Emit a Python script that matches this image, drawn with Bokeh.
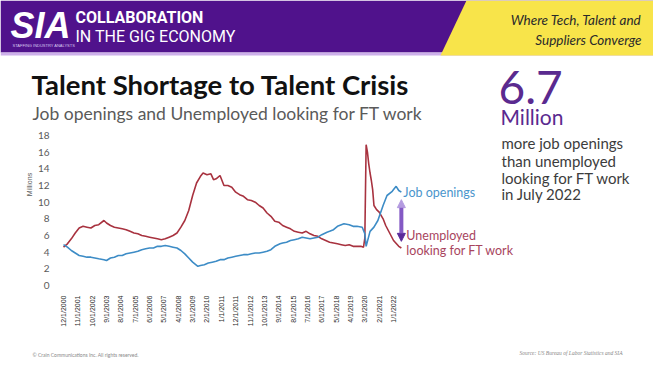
from math import pi
from bokeh.plotting import figure
from bokeh.models import (Range1d, FixedTicker, Label, BoxAnnotation, PolyAnnotation,
                          Arrow, NormalHead)
from bokeh.embed import file_html
from bokeh.resources import INLINE

# ---------------- data ----------------
job_dates = ["2000-12", "2001-03", "2001-06", "2001-09", "2001-12", "2002-03", "2002-06", "2002-09",
             "2002-12", "2003-03", "2003-07", "2003-09", "2003-12", "2004-03", "2004-06", "2004-09",
             "2004-12", "2005-03", "2005-06", "2005-09", "2005-12", "2006-03", "2006-06", "2006-09",
             "2006-12", "2007-03", "2007-06", "2007-09", "2007-12", "2008-03", "2008-06", "2008-09",
             "2008-12", "2009-03", "2009-07", "2009-09", "2009-12", "2010-03", "2010-06", "2010-09",
             "2010-12", "2011-03", "2011-06", "2011-09", "2011-12", "2012-03", "2012-06", "2012-09",
             "2012-12", "2013-03", "2013-06", "2013-09", "2013-12", "2014-03", "2014-06", "2014-10",
             "2014-12", "2015-03", "2015-06", "2015-09", "2015-12", "2016-03", "2016-06", "2016-09",
             "2016-12", "2017-03", "2017-06", "2017-10", "2017-12", "2018-03", "2018-06", "2018-11",
             "2019-03", "2019-06", "2019-09", "2020-01", "2020-03", "2020-04", "2020-07", "2020-10",
             "2021-01", "2021-05", "2021-08", "2021-12", "2022-03", "2022-05", "2022-07"]
job_openings = [4.9, 4.6, 4.2, 3.9, 3.6, 3.5, 3.4, 3.4,
                3.3, 3.2, 3.1, 3.0, 3.3, 3.4, 3.6, 3.6,
                3.8, 3.9, 4.0, 4.1, 4.3, 4.4, 4.5, 4.5,
                4.7, 4.7, 4.8, 4.7, 4.6, 4.5, 4.2, 3.8,
                3.3, 2.8, 2.3, 2.4, 2.5, 2.7, 2.8, 2.9,
                3.1, 3.1, 3.3, 3.4, 3.5, 3.6, 3.7, 3.7,
                3.8, 3.9, 3.9, 4.0, 4.1, 4.3, 4.7, 5.0,
                5.1, 5.2, 5.4, 5.5, 5.6, 5.8, 5.7, 5.6,
                5.7, 5.8, 6.1, 6.4, 6.5, 6.7, 7.1, 7.4,
                7.3, 7.1, 7.1, 7.0, 6.2, 4.7, 6.5, 7.0,
                7.8, 9.6, 10.8, 11.3, 11.9, 11.4, 11.2]

unemp_dates = ["2000-12", "2001-03", "2001-06", "2001-09", "2001-12", "2002-03", "2002-06", "2002-09",
               "2002-12", "2003-03", "2003-07", "2003-09", "2003-12", "2004-03", "2004-06", "2004-09",
               "2004-12", "2005-03", "2005-06", "2005-09", "2005-12", "2006-03", "2006-06", "2006-09",
               "2006-12", "2007-03", "2007-06", "2007-09", "2007-12", "2008-03", "2008-06", "2008-09",
               "2008-12", "2009-03", "2009-06", "2009-09", "2009-11", "2010-02", "2010-05", "2010-07",
               "2010-09", "2010-12", "2011-03", "2011-06", "2011-09", "2011-12", "2012-03", "2012-06",
               "2012-09", "2012-12", "2013-03", "2013-06", "2013-09", "2013-12", "2014-03", "2014-06",
               "2014-09", "2014-12", "2015-03", "2015-06", "2015-09", "2015-12", "2016-03", "2016-06",
               "2016-09", "2016-12", "2017-03", "2017-06", "2017-09", "2017-12", "2018-03", "2018-06",
               "2018-09", "2018-12", "2019-03", "2019-06", "2019-09", "2019-12", "2020-02", "2020-03",
               "2020-04", "2020-05", "2020-06", "2020-07", "2020-08", "2020-09", "2020-10", "2020-12",
               "2021-02", "2021-05", "2021-07", "2021-09", "2022-01", "2022-05", "2022-07"]
unemployed_ft = [4.6, 5.0, 5.6, 6.3, 6.9, 7.1, 7.0, 6.9,
                 7.2, 7.3, 7.8, 7.5, 7.2, 7.0, 6.9, 6.8,
                 6.7, 6.5, 6.3, 6.2, 6.0, 5.9, 5.8, 5.7,
                 5.6, 5.5, 5.6, 5.8, 6.0, 6.3, 7.0, 7.8,
                 9.0, 10.8, 12.3, 13.1, 13.5, 13.3, 13.4, 12.7,
                 12.8, 13.2, 12.0, 12.0, 11.8, 11.2, 10.9, 10.7,
                 10.3, 10.2, 10.0, 9.6, 9.3, 8.7, 8.3, 7.7,
                 7.6, 7.2, 7.0, 6.8, 6.5, 6.4, 6.3, 6.5,
                 6.2, 6.0, 5.9, 5.6, 5.4, 5.2, 5.1, 5.0,
                 4.9, 4.8, 4.9, 4.7, 4.7, 4.7, 4.6, 5.7,
                 16.9, 16.0, 14.6, 13.5, 12.6, 11.5, 9.6, 9.1,
                 8.8, 8.0, 7.2, 6.6, 5.4, 4.7, 4.5]

tick_labels = ["12/1/2000", "11/1/2001", "10/1/2002", "9/1/2003", "8/1/2004", "7/1/2005",
               "6/1/2006", "5/1/2007", "4/1/2008", "3/1/2009", "2/1/2010", "1/1/2011",
               "12/1/2011", "11/1/2012", "10/1/2013", "9/1/2014", "8/1/2015", "7/1/2016",
               "6/1/2017", "5/1/2018", "4/1/2019", "3/1/2020", "2/1/2021", "1/1/2022"]
y_ticks = [0, 2, 4, 6, 8, 10, 12, 14, 16, 18]


def month_index(year, month):
    return (year - 2000) * 12 + (month - 12)


def ym(s):
    y, m = s.split("-")
    return month_index(int(y), int(m))


def mdy(s):
    m, d, y = s.split("/")
    return month_index(int(y), int(m))


job_x = [ym(d) for d in job_dates]
unemp_x = [ym(d) for d in unemp_dates]
tick_pos = [mdy(t) for t in tick_labels]

PURPLE = "#50128c"
BLUE = "#3d8cc6"
RED = "#a8323f"

W, H = 653, 368
# the plot frame covers the whole canvas; the axes are placed at fixed data locations
p = figure(width=W, height=H, output_backend="svg", toolbar_location=None,
           x_range=Range1d(-48.3, 452.3), y_range=Range1d(-9.96, 34.2), min_border=0)
p.outline_line_color = None
p.xgrid.visible = False
p.ygrid.visible = False
p.background_fill_color = "white"
p.border_fill_color = "white"

p.xaxis.fixed_location = 0
p.xaxis.ticker = FixedTicker(ticks=tick_pos)
p.xaxis.major_label_overrides = {t: l for t, l in zip(tick_pos, tick_labels)}
p.xaxis.major_label_orientation = pi / 2
p.xaxis.major_label_text_font_size = "7px"
p.xaxis.major_label_text_color = "#2a2a2a"
p.xaxis.major_label_text_font = "Liberation Sans"
p.xaxis.major_label_standoff = 4
p.xaxis.axis_line_color = None
p.xaxis.major_tick_line_color = None
p.xaxis.minor_tick_line_color = None

p.yaxis.fixed_location = -5.37
p.yaxis.ticker = FixedTicker(ticks=y_ticks)
p.yaxis.major_label_text_font_size = "10px"
p.yaxis.major_label_text_color = "#5a5a5a"
p.yaxis.major_label_text_font = "Lato"
p.yaxis.major_label_standoff = 1
p.yaxis.axis_line_color = None
p.yaxis.major_tick_line_color = None
p.yaxis.minor_tick_line_color = None
p.yaxis.axis_label = "Millions"
p.yaxis.axis_label_text_font_size = "7px"
p.yaxis.axis_label_text_font_style = "normal"
p.yaxis.axis_label_text_color = "#5a5a5a"
p.yaxis.axis_label_standoff = 2

p.line(unemp_x, unemployed_ft, line_color=RED, line_width=1.6)
p.line(job_x, job_openings, line_color=BLUE, line_width=1.6)

# double-headed arrow between last values
ax = job_x[-1]
p.add_layout(Arrow(x_start=ax, y_start=job_openings[-1] - 0.9, x_end=ax, y_end=unemployed_ft[-1] + 0.8,
                   line_color="#8459c4", line_width=4,
                   start=NormalHead(size=8, fill_color="#b49be0", line_color="#b49be0"),
                   end=NormalHead(size=8, fill_color="#5a2a9a", line_color="#5a2a9a")))
p.add_layout(Label(x=ax, y=job_openings[-1], x_offset=2, text="Job openings", text_color="#4a95cc",
                   text_font="Lato", text_font_size="12.5px", text_baseline="middle"))
p.add_layout(Label(x=ax, y=unemployed_ft[-1], x_offset=5, y_offset=13, text="Unemployed",
                   text_color="#a8455e", text_font="Lato", text_font_size="12.5px", text_baseline="middle"))
p.add_layout(Label(x=ax, y=unemployed_ft[-1], x_offset=5, y_offset=-2, text="looking for FT work",
                   text_color="#a8455e", text_font="Lato", text_font_size="12.5px", text_baseline="middle"))


# ---------------- slide decoration (screen units) ----------------
def sx(px):
    return px


def sy(py):
    return H - py


p.add_layout(BoxAnnotation(left=sx(0), right=sx(W), top=sy(0), bottom=sy(52),
                           left_units="screen", right_units="screen", top_units="screen",
                           bottom_units="screen", fill_color=PURPLE, fill_alpha=1, line_color=None,
                           level="underlay"))
p.add_layout(BoxAnnotation(left=sx(0), right=sx(W), top=sy(52), bottom=sy(55),
                           left_units="screen", right_units="screen", top_units="screen",
                           bottom_units="screen", fill_color="#cdb0ea", fill_alpha=1, line_color=None,
                           level="underlay"))
p.add_layout(PolyAnnotation(xs=[sx(466), sx(W), sx(W), sx(440)], ys=[sy(0), sy(0), sy(55), sy(55)],
                            xs_units="screen", ys_units="screen", fill_color="#f8e44a", fill_alpha=1,
                            line_color=None, level="underlay"))


def slabel(px, py, text, **kw):
    p.add_layout(Label(x=sx(px), y=sy(py), x_units="screen", y_units="screen", text=text, **kw))


slabel(10, 25, "SIA", text_color="white", text_font="Liberation Sans", text_font_size="36px",
       text_font_style="bold italic", text_baseline="middle")
slabel(12, 45, "STAFFING INDUSTRY ANALYSTS", text_color="#d8c8f0", text_font="Liberation Sans",
       text_font_size="4px", text_baseline="middle")
slabel(75, 17, "COLLABORATION", text_color="white", text_font="Roboto", text_font_size="16px",
       text_font_style="bold", text_baseline="middle")
slabel(75, 36, "IN THE GIG ECONOMY", text_color="white", text_font="Roboto", text_font_size="16px",
       text_baseline="middle")
slabel(641, 19, "Where Tech, Talent and", text_color="#2a2a2a", text_font="Lato", text_font_size="13.5px",
       text_font_style="italic", text_align="right", text_baseline="middle")
slabel(641, 39, "Suppliers Converge", text_color="#2a2a2a", text_font="Lato", text_font_size="13.5px",
       text_font_style="italic", text_align="right", text_baseline="middle")

slabel(31, 84, "Talent Shortage to Talent Crisis", text_color="#111111", text_font="Lato",
       text_font_size="27.5px", text_font_style="bold", text_baseline="middle")
slabel(32, 113, "Job openings and Unemployed looking for FT work", text_color="#5a5a5a",
       text_font="Lato", text_font_size="17.5px", text_baseline="middle")

slabel(498, 87, "6.7", text_color="#5a2a8f", text_font="Lato", text_font_size="46px",
       text_baseline="middle")
slabel(500, 116, "Million", text_color="#5a2a8f", text_font="Lato", text_font_size="21px",
       text_baseline="middle")
for py, t in zip([142, 160, 177, 193], ["more job openings", "than unemployed", "looking for FT work",
                                        "in July 2022"]):
    slabel(501, py, t, text_color="#3c3c3c", text_font="Lato", text_font_size="15px",
           text_baseline="middle")

slabel(32, 354, "\u00a9 Crain Communications Inc. All rights reserved.", text_color="#888888",
       text_font="Lato", text_font_size="5px", text_baseline="middle")
slabel(622, 352, "Source: US Bureau of Labor Statistics and SIA", text_color="#888888",
       text_font="Liberation Serif", text_font_size="5.5px", text_font_style="italic",
       text_align="right", text_baseline="middle")

open("out.html", "w").write(file_html(p, INLINE))
